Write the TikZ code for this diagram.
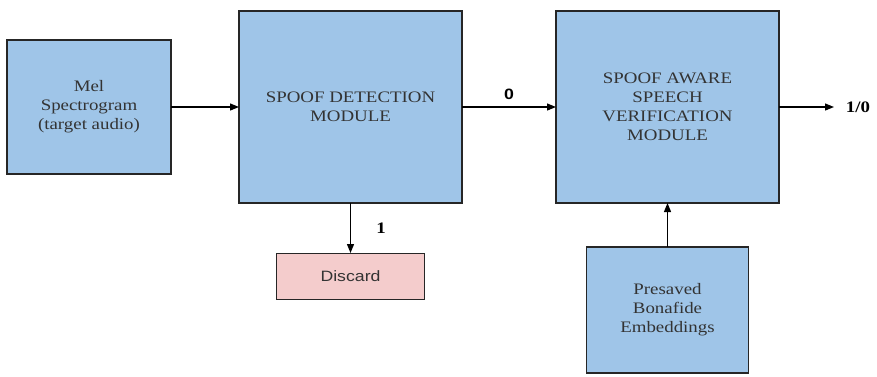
\documentclass[tikz,border=0pt]{standalone}
\usepackage{fontspec}
\setmainfont{Liberation Serif}
\newfontfamily\boxfont[FakeStretch=1.18]{Liberation Serif}
\newfontfamily\discardfont[FakeStretch=1.18]{Liberation Sans}
\usetikzlibrary{arrows.meta,positioning}
\definecolor{boxblue}{HTML}{9FC5E8}
\definecolor{boxpink}{HTML}{F4CCCC}

\begin{document}
\begin{tikzpicture}[
    x=1pt, y=-1pt,
    node distance=60pt,
    module/.style={draw=black!85, line width=1.3pt, rectangle, align=center, fill=boxblue, text=black!80, font=\boxfont\fontsize{16}{19}\selectfont, inner sep=2pt, outer sep=0pt},
    reject/.style={draw=black!85, line width=1pt, rectangle, align=center, fill=boxpink, text=black!80, font=\discardfont\fontsize{15}{18}\selectfont, minimum width=148pt, minimum height=46pt, outer sep=0pt},
    flow/.style={-{Triangle[length=9pt,width=7pt]}, line width=1.2pt},
    tag/.style={font=\boxfont\bfseries\fontsize{16}{18}\selectfont}
]
    \useasboundingbox (0,0) rectangle (877,376);

    \node[module, minimum width=223pt, minimum height=192pt] (sdm) at (350.5,107) {SPOOF DETECTION\\MODULE};
    \node[module, minimum width=164pt, minimum height=134pt, left=68pt of sdm] (mel) {Mel\\Spectrogram\\(target audio)};
    \node[module, minimum width=223pt, minimum height=192pt, right=94pt of sdm] (savm) {SPOOF AWARE\\SPEECH\\VERIFICATION\\MODULE};
    \node[reject, below=50pt of sdm] (discard) {Discard};
    \node[module, minimum width=162pt, minimum height=126pt, below=44pt of savm] (presaved) {Presaved\\Bonafide\\Embeddings};
    \coordinate[right=55pt of savm] (out);

    \draw[flow] (mel) -- (sdm);
    \draw[flow] (sdm) -- node[above=3pt, font=\discardfont\bfseries\fontsize{15}{17}\selectfont] {0} (savm);
    \draw[flow] (savm) -- (out) node[right=8pt, tag] {1/0};
    \draw[flow] (sdm) -- node[right=22pt, tag] {1} (discard);
    \draw[flow] (presaved) -- (savm);
\end{tikzpicture}
\end{document}
